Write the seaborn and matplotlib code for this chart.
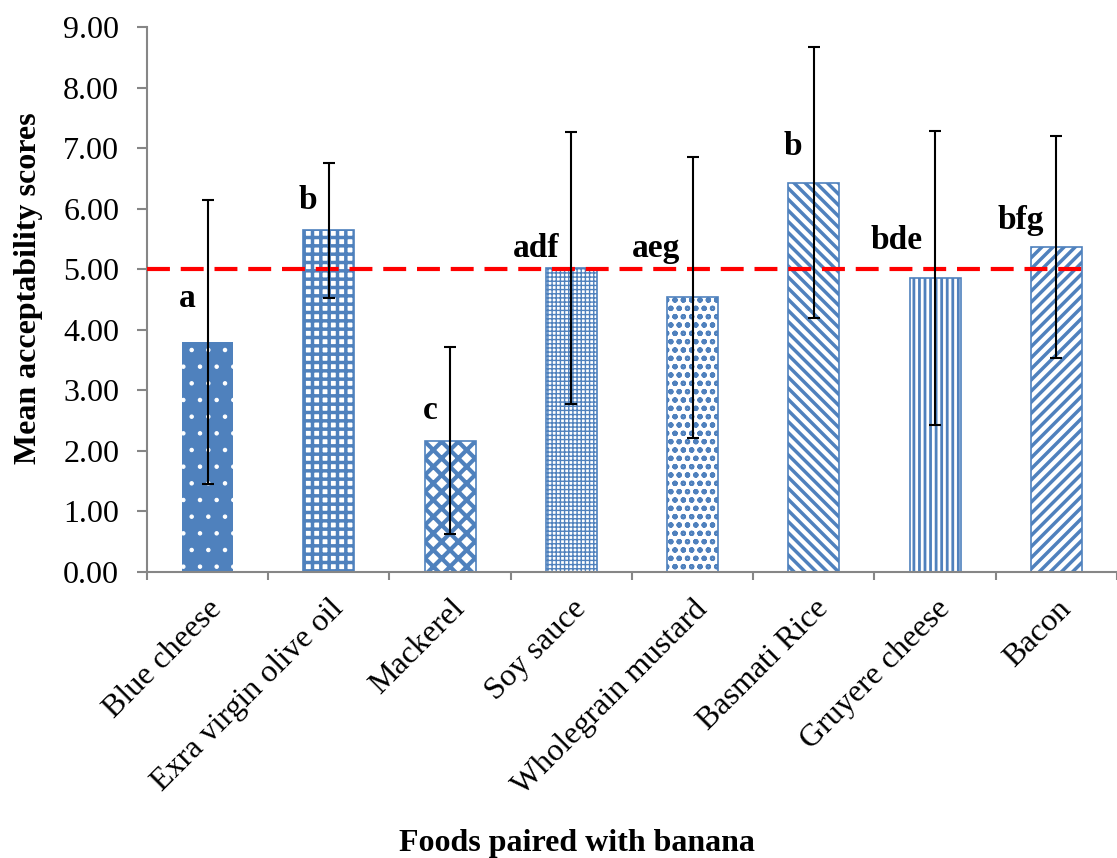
import numpy as np
import pandas as pd
import matplotlib
matplotlib.use("Agg")
import matplotlib.pyplot as plt
import matplotlib.transforms as mtransforms
import seaborn as sns

# Data
foods = ["Blue cheese", "Exra virgin olive oil", "Mackerel", "Soy sauce",
         "Wholegrain mustard", "Basmati Rice", "Gruyere cheese", "Bacon"]
means = [3.80, 5.64, 2.17, 5.02, 4.54, 6.43, 4.85, 5.37]
sds = [2.35, 1.12, 1.54, 2.24, 2.32, 2.24, 2.43, 1.83]
letters = ["a", "b", "c", "adf", "aeg", "b", "bde", "bfg"]
letter_y = [4.52, 6.13, 2.66, 5.35, 5.35, 7.02, 5.48, 5.81]
hatches = [".", "++", "xx", "++++", "oo", "\\\\\\", "|||", "///"]
hatch_lw = [0.8, 2.5, 3.0, 1.0, 1.5, 2.5, 2.0, 2.5]
threshold = 5.0

blue = "#4F81BD"
grey = "#868686"

sns.set_style("white")
plt.rcParams["font.family"] = ["Liberation Serif", "DejaVu Serif"]
plt.rcParams["text.color"] = "black"
plt.rcParams["axes.labelcolor"] = "black"
plt.rcParams["xtick.color"] = "black"
plt.rcParams["ytick.color"] = "black"

df = pd.DataFrame({"food": foods, "mean": means})

fig = plt.figure(figsize=(11.17, 8.58), dpi=100)
ax = fig.add_axes([0.1316, 0.3333, 0.8684, 0.6352])

sns.barplot(data=df, x="food", y="mean", color=blue, width=0.42,
            errorbar=None, ax=ax, zorder=2)

for i, p in enumerate(ax.patches):
    if i == 0:
        p.set_facecolor(blue)
        p.set_edgecolor("white")
        p.set_linewidth(0)
    else:
        p.set_facecolor("white")
        p.set_edgecolor(blue)
        p.set_linewidth(1.2)
    p.set_hatch(hatches[i])
    if hasattr(p, "set_hatch_linewidth"):
        p.set_hatch_linewidth(hatch_lw[i])
    else:
        p._hatch_linewidth = hatch_lw[i]

x = np.arange(len(foods))
ax.errorbar(x, means, yerr=sds, fmt="none", ecolor="black",
            elinewidth=1.5, capsize=4.3, capthick=1.5, zorder=4)

ax.hlines(threshold, -0.5, len(foods) - 1 + 0.21, colors="#FF0000",
          linestyles=(0, (5.5, 2.6)), linewidth=3, zorder=3)

for i, (lab, ly) in enumerate(zip(letters, letter_y)):
    ax.text(i - 0.1, ly, lab, ha="right", va="center",
            fontsize=24, fontweight="bold", zorder=5)

ax.set_ylim(0, 9)
ax.set_xlim(-0.5, 7.42)
ax.set_yticks(np.arange(0, 10, 1))
ax.set_yticklabels([f"{v:.2f}" for v in np.arange(0, 10, 1)], fontsize=23)

ax.set_xticks(x)
ax.set_xticklabels(foods, rotation=45, ha="right", va="top",
                   rotation_mode="anchor", fontsize=23)
shift = mtransforms.ScaledTranslation(8 / 100, 0, fig.dpi_scale_trans)
for lab in ax.get_xticklabels():
    lab.set_transform(lab.get_transform() + shift)
ax.set_xticks(np.arange(-0.5, 8, 1), minor=True)
ax.tick_params(axis="x", which="major", length=0, pad=16, bottom=True)
ax.tick_params(axis="x", which="minor", length=6, color=grey, width=1.5,
               direction="out", bottom=True)
ax.tick_params(axis="y", length=7, color=grey, width=1.5, direction="out",
               pad=13, left=True)

for side in ["top", "right"]:
    ax.spines[side].set_visible(False)
for side in ["left", "bottom"]:
    ax.spines[side].set_color(grey)
    ax.spines[side].set_linewidth(1.5)

ax.set_xlabel("")
ax.set_ylabel("Mean acceptability scores", fontsize=23, fontweight="bold")
ax.yaxis.set_label_coords(-0.107, 0.52)
fig.text(577 / 1117, 1 - 843 / 858, "Foods paired with banana",
         ha="center", va="center", fontsize=23, fontweight="bold")

fig.savefig("out.png", dpi=100)
